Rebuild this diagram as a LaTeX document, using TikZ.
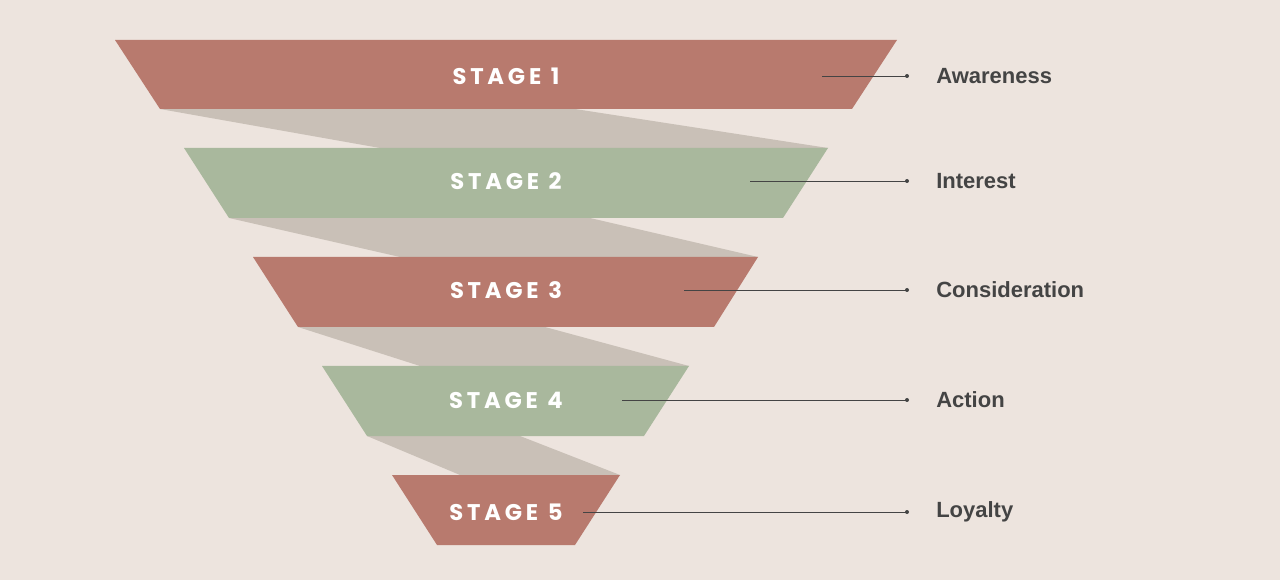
\documentclass[tikz,border=0pt]{standalone}
\usepackage{fontspec}
\setmainfont{Liberation Sans}
\newfontfamily\stagefont{Poppins}
\definecolor{bg}{HTML}{EDE4DE}
\definecolor{redc}{HTML}{B87A6E}
\definecolor{greenc}{HTML}{A9B89D}
\definecolor{band}{HTML}{C9C0B7}
\definecolor{txt}{HTML}{444444}
\tikzset{
  stagelbl/.style={text=white,font=\stagefont\bfseries\fontsize{17}{20}\selectfont,inner sep=0pt},
  rlbl/.style={text=txt,font=\bfseries\fontsize{16.5}{20}\selectfont,anchor=west,inner sep=0pt},
  pointer/.style={draw=txt,line width=0.6pt},
  dotc/.style={circle,fill=txt,inner sep=0pt,minimum size=3pt}
}
\begin{document}
\begin{tikzpicture}[x=0.75pt,y=-0.75pt]
\useasboundingbox (0,0) rectangle (1280,580);
\fill[bg] (0,0) rectangle (1280,580);
% bands
\fill[band] (160,109) -- (575,109) -- (828,148) -- (380,148) -- cycle;
\fill[band] (229,218) -- (590,218) -- (758,257) -- (400,257) -- cycle;
\fill[band] (298,327) -- (545,327) -- (689,366) -- (420,366) -- cycle;
\fill[band] (367,436) -- (520,436) -- (620,475) -- (460,475) -- cycle;
% stages
\fill[redc] (115,40) -- (897,40) -- (852,109) -- (160,109) -- cycle;
\fill[greenc] (184,148) -- (828,148) -- (783,218) -- (229,218) -- cycle;
\fill[redc] (253,257) -- (758,257) -- (714,327) -- (298,327) -- cycle;
\fill[greenc] (322,366) -- (689,366) -- (644,436) -- (367,436) -- cycle;
\fill[redc] (392,475) -- (620,475) -- (575,545) -- (437,545) -- cycle;
\foreach \i/\y/\xs/\lab in {1/76/822/Awareness,2/181/750/Interest,3/290/684/Consideration,4/400/622/Action,5/512/583/Loyalty}{
  \node[stagelbl] (s\i) at (506,\y) {S\,T\,A\,G\,E\ \ \i};
  \coordinate (a\i) at (\xs,\y);
  \node[dotc] (d\i) at (907,\y) {};
  \node[rlbl] (l\i) at (936,\y) {\lab};
  \draw[pointer] (a\i) -- (d\i.center);
}
\end{tikzpicture}
\end{document}
